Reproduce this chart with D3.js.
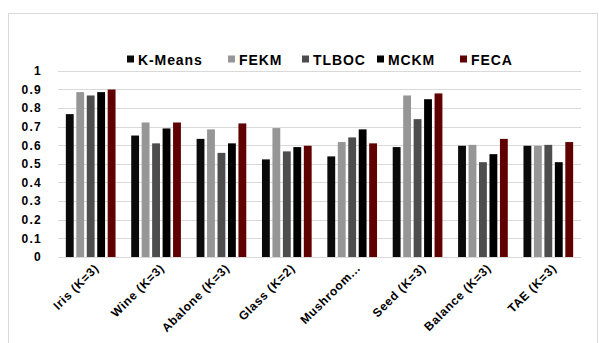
<!DOCTYPE html>
<html><head><meta charset="utf-8">
<script src="https://cdn.jsdelivr.net/npm/d3@7"></script>
<style>body{margin:0;background:#fff}svg{display:block}</style>
</head><body>
<script>
const categories = ["Iris  (K=3)", "Wine  (K=3)", "Abalone  (K=3)", "Glass (K=2)", "Mushroom...", "Seed  (K=3)", "Balance  (K=3)", "TAE  (K=3)"];
const seriesNames = ["K-Means", "FEKM", "TLBOC", "MCKM", "FECA"];
const kmeans = [0.767, 0.652, 0.634, 0.524, 0.540, 0.590, 0.597, 0.597];
const fekm   = [0.885, 0.722, 0.685, 0.692, 0.617, 0.867, 0.602, 0.597];
const tlboc  = [0.867, 0.610, 0.559, 0.567, 0.642, 0.740, 0.509, 0.602];
const mckm   = [0.885, 0.690, 0.610, 0.590, 0.685, 0.847, 0.552, 0.509];
const feca   = [0.899, 0.722, 0.717, 0.597, 0.610, 0.878, 0.634, 0.617];
const yTicks = [0, 0.1, 0.2, 0.3, 0.4, 0.5, 0.6, 0.7, 0.8, 0.9, 1];
const colors = ["#0a0a0a", "#969696", "#4d4d4d", "#000000", "#600000"];

(function () {
const seriesValues = [kmeans, fekm, tlboc, mckm, feca];
const W = 599, H = 343;
const svg = d3.select("body").append("svg").attr("width", W).attr("height", H);

// chart border
svg.append("rect").attr("x", 8.5).attr("y", 13.5).attr("width", 589).attr("height", 340)
  .attr("fill", "none").attr("stroke", "#d9d9d9");

const pLeft = 58, pRight = 581, pTop = 70.7, pBottom = 257;
const y = d3.scaleLinear().domain([0, 1]).range([pBottom, pTop]);
const x0 = d3.scaleBand().domain(categories).range([pLeft, pRight]).paddingInner(0.24).paddingOuter(0.12);
const x1 = d3.scaleBand().domain(seriesNames).range([0, x0.bandwidth()]).paddingInner(0.25);

// gridlines
svg.append("g").selectAll("line").data(yTicks).join("line")
  .attr("x1", pLeft).attr("x2", pRight)
  .attr("y1", d => Math.round(y(d)) + 0.5).attr("y2", d => Math.round(y(d)) + 0.5)
  .attr("stroke", "#d9d9d9").attr("stroke-width", 1);

// y axis labels
const yAxis = d3.axisLeft(y).tickValues(yTicks).tickSize(0).tickPadding(0).tickFormat(d3.format("~g"));
const yg = svg.append("g").attr("transform", `translate(42,0)`).call(yAxis);
yg.select(".domain").remove();
yg.selectAll("text").attr("font-family", "Liberation Sans, Arial, sans-serif")
  .attr("font-weight", "bold").attr("font-size", "12px").attr("letter-spacing", "1.3px").attr("fill", "#000");

// bars
const groups = svg.append("g").selectAll("g").data(categories).join("g")
  .attr("transform", d => `translate(${x0(d)},0)`);
groups.selectAll("rect").data((c, i) => seriesNames.map((s, j) => ({s, v: seriesValues[j][i], j})))
  .join("rect")
  .attr("x", d => x1(d.s)).attr("width", x1.bandwidth())
  .attr("y", d => y(d.v)).attr("height", d => y(0) - y(d.v))
  .attr("fill", d => colors[d.j]);

// x labels
svg.append("g").selectAll("text").data(categories).join("text")
  .attr("transform", d => `translate(${x0(d) + x0.bandwidth() / 2 + 6},${pBottom + 9}) rotate(-45)`)
  .attr("text-anchor", "end").attr("dy", "0.35em")
  .attr("font-family", "Liberation Sans, Arial, sans-serif").attr("font-weight", "bold")
  .attr("font-size", "12px").attr("letter-spacing", "0.7px").attr("fill", "#000")
  .text(d => d);

// legend
const legendX = [127, 228, 302, 377, 460];
const lg = svg.append("g").selectAll("g").data(seriesNames).join("g")
  .attr("transform", (d, i) => `translate(${legendX[i]},0)`);
lg.append("rect").attr("x", 0).attr("y", 55.5).attr("width", 7).attr("height", 7)
  .attr("fill", (d, i) => colors[i]);
lg.append("text").attr("x", 11).attr("y", 64.5)
  .attr("font-family", "Liberation Sans, Arial, sans-serif").attr("font-weight", "bold")
  .attr("font-size", "14px").attr("letter-spacing", "0.9px").attr("fill", "#000")
  .text(d => d);
})();
</script>
</body></html>
